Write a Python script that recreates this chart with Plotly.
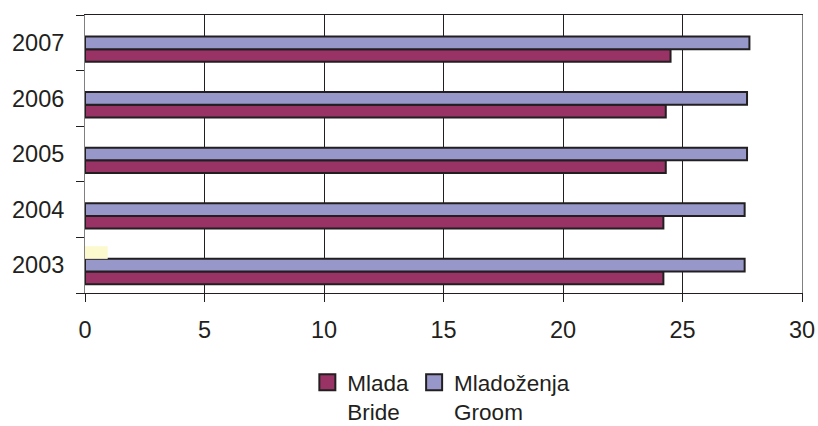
import plotly.graph_objects as go

years = ["2003", "2004", "2005", "2006", "2007"]
bride = [24.2, 24.2, 24.3, 24.3, 24.5]
groom = [27.6, 27.6, 27.7, 27.7, 27.8]
extra = [0.95, 0, 0, 0, 0]
x_ticks = [0, 5, 10, 15, 20, 25, 30]
names = ["Mlada<br>Bride", "Mladoženja<br>Groom"]
colors = ["#993366", "#9797c9"]

EDGE = "#231f20"
FONT = "Liberation Sans, Arial, sans-serif"

fig = go.Figure()
for vals, nm, col in zip([bride, groom], names, colors):
    fig.add_trace(go.Bar(
        y=years, x=vals, orientation="h", name=nm, showlegend=False,
        marker=dict(color=col, line=dict(color=EDGE, width=2)),
    ))
fig.add_trace(go.Bar(
    y=years, x=extra, orientation="h", name="", showlegend=False,
    marker=dict(color="#fdf9cf", line=dict(width=0)),
))
# legend entries (square swatches)
for nm, col in zip(names, colors):
    fig.add_trace(go.Scatter(
        x=[None], y=[None], mode="markers", name=nm,
        marker=dict(symbol="square", size=16, color=col,
                    line=dict(color=EDGE, width=2)),
    ))

fig.update_layout(
    width=818, height=426,
    margin=dict(l=85, r=16, t=15, b=133, autoexpand=False),
    paper_bgcolor="white", plot_bgcolor="white",
    barmode="group", bargap=0.317, bargroupgap=0,
    font=dict(family=FONT, size=23.5, color="#231f20"),
    showlegend=True,
    legend=dict(
        orientation="h", x=0.497, xanchor="center", y=-0.245, yanchor="top",
        font=dict(family=FONT, size=22.5, color="#231f20"),
        traceorder="normal", itemwidth=30, valign="top",
    ),
    xaxis=dict(
        range=[0, 30], tickvals=x_ticks, ticktext=[str(v) for v in x_ticks],
        showgrid=True, gridcolor=EDGE, gridwidth=1,
        showline=True, linecolor=EDGE, linewidth=1, mirror=True,
        ticks="outside", ticklen=8, tickcolor=EDGE,
        zeroline=False, ticklabelstandoff=8, automargin=False,
    ),
    yaxis=dict(
        type="category", categoryorder="array", categoryarray=years,
        showgrid=False, showline=True, linecolor="#808080", linewidth=1,
        mirror=True, ticks="outside", ticklen=8, tickcolor=EDGE,
        tickson="boundaries", ticklabelstandoff=15, automargin=False,
    ),
)

fig.write_html(
    "out.html",
    config={"displayModeBar": False},
    post_script="document.body.style.margin='0';",
)
